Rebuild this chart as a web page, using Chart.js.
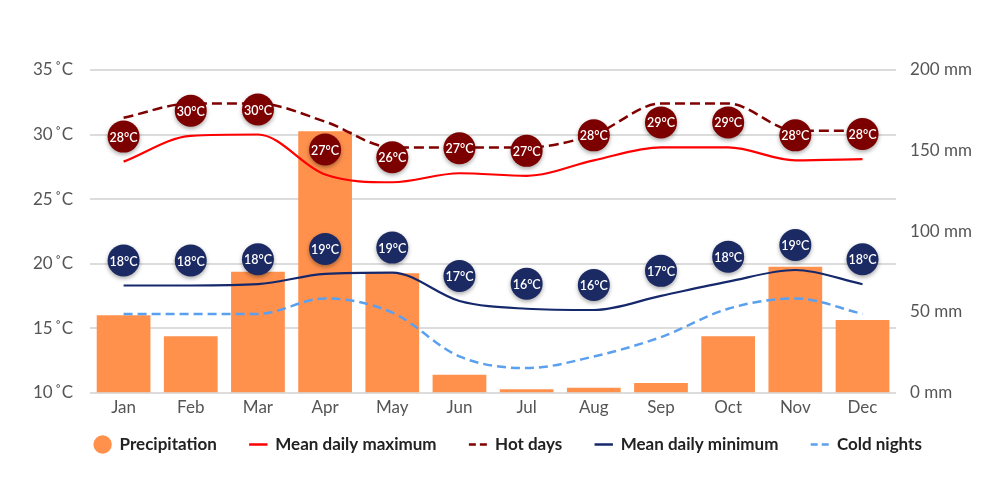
<!DOCTYPE html>
<html>
<head>
<meta charset="utf-8">
<title>Climate chart</title>
<script src="https://cdn.jsdelivr.net/npm/chart.js@4.4.1/dist/chart.umd.min.js"></script>
<style>
  html, body { margin: 0; padding: 0; background: #fff; }
  #wrap { width: 1000px; height: 500px; }
</style>
</head>
<body>
<div id="wrap"><canvas id="climateChart"></canvas></div>
<script>
// data
var months = ['Jan', 'Feb', 'Mar', 'Apr', 'May', 'Jun', 'Jul', 'Aug', 'Sep', 'Oct', 'Nov', 'Dec'];
var precipitation = [48, 35, 75, 162, 74, 11, 2, 3, 6, 35, 78, 45];      // mm
var meanMax  = [27.9, 29.9, 30.0, 26.9, 26.3, 27.0, 26.8, 28.0, 29.0, 29.0, 28.0, 28.1];
var hotDays  = [31.3, 32.4, 32.4, 31.0, 29.0, 29.0, 29.0, 30.0, 32.4, 32.4, 30.3, 30.3];
var meanMin  = [18.3, 18.3, 18.4, 19.2, 19.3, 17.1, 16.5, 16.4, 17.5, 18.6, 19.5, 18.4];
var coldNights = [16.1, 16.1, 16.1, 17.3, 16.2, 12.8, 11.9, 12.8, 14.3, 16.5, 17.3, 16.1];
var maxLabels = [28, 30, 30, 27, 26, 27, 27, 28, 29, 29, 28, 28];
var minLabels = [18, 18, 18, 19, 19, 17, 16, 16, 17, 18, 19, 18];
var tempTicks = [10, 15, 20, 25, 30, 35];
var rainTicks = [0, 50, 100, 150, 200];

var FONT = 'Lato, "Noto Sans", sans-serif';

// draws the round value badges above the mean max / mean min lines
var badgePlugin = {
  id: 'badges',
  afterDatasetsDraw: function(chart) {
    var ctx = chart.ctx;
    chart.data.datasets.forEach(function(ds, i) {
      if (!ds.badgeLabels) return;
      var meta = chart.getDatasetMeta(i);
      meta.data.forEach(function(pt, j) {
        var x = pt.x, y = pt.y - 25;
        ctx.save();
        ctx.shadowColor = 'rgba(0,0,0,0.35)';
        ctx.shadowBlur = 4;
        ctx.shadowOffsetY = 2;
        ctx.beginPath();
        ctx.arc(x, y, 16, 0, Math.PI * 2);
        ctx.fillStyle = ds.badgeColor;
        ctx.fill();
        ctx.restore();

        ctx.save();
        ctx.fillStyle = '#fff';
        ctx.font = '600 12.5px ' + FONT;
        ctx.textAlign = 'center';
        ctx.textBaseline = 'middle';
        ctx.fillText(ds.badgeLabels[j] + '\u00b0C', x, y + 1);
        ctx.restore();
      });
    });
  }
};

// the legend sits a bit closer to the month labels than chart.js puts it
var legendShift = {
  id: 'legendShift',
  afterLayout: function(chart) {
    if (!chart.legend) return;
    chart.legend.top -= 20;
    chart.legend.bottom -= 20;
    chart.legend.left += 7;
    chart.legend.right += 7;
  }
};

var ctx = document.getElementById('climateChart').getContext('2d');
var chart = new Chart(ctx, {
  type: 'bar',
  data: {
    labels: months,
    datasets: [
      {
        type: 'bar',
        label: 'Precipitation',
        data: precipitation,
        yAxisID: 'yRain',
        backgroundColor: '#ff914d',
        borderWidth: 0,
        barPercentage: 0.8,
        categoryPercentage: 1,
        order: 2
      },
      {
        type: 'line',
        label: 'Mean daily maximum',
        data: meanMax,
        yAxisID: 'yTemp',
        borderColor: '#ff0000',
        borderWidth: 2.2,
        pointRadius: 0,
        cubicInterpolationMode: 'monotone',
        badgeLabels: maxLabels,
        badgeColor: '#7d0000',
        order: 1
      },
      {
        type: 'line',
        label: 'Hot days',
        data: hotDays,
        yAxisID: 'yTemp',
        borderColor: '#800000',
        borderWidth: 2.5,
        borderDash: [10, 5],
        pointRadius: 0,
        cubicInterpolationMode: 'monotone',
        order: 1
      },
      {
        type: 'line',
        label: 'Mean daily minimum',
        data: meanMin,
        yAxisID: 'yTemp',
        borderColor: '#14286b',
        borderWidth: 2.2,
        pointRadius: 0,
        cubicInterpolationMode: 'monotone',
        badgeLabels: minLabels,
        badgeColor: '#1b2a63',
        order: 1
      },
      {
        type: 'line',
        label: 'Cold nights',
        data: coldNights,
        yAxisID: 'yTemp',
        borderColor: '#5aa0ee',
        borderWidth: 2.5,
        borderDash: [9, 5],
        pointRadius: 0,
        cubicInterpolationMode: 'monotone',
        order: 1
      }
    ]
  },
  options: {
    responsive: true,
    maintainAspectRatio: false,
    animation: false,
    layout: { padding: { left: 16, right: 14, top: 70, bottom: 17 } },
    plugins: {
      tooltip: { enabled: false },
      legend: {
        position: 'bottom',
        labels: {
          usePointStyle: true,
          boxHeight: 13,
          padding: 33,
          color: '#222',
          font: { family: FONT, size: 17, weight: 'bold' },
          sort: function(a, b) { return a.datasetIndex - b.datasetIndex; },
          generateLabels: function(chart) {
            var items = Chart.defaults.plugins.legend.labels.generateLabels(chart);
            items.forEach(function(it) {
              var ds = chart.data.datasets[it.datasetIndex];
              if (ds.type === 'line') {
                it.pointStyle = 'line';
                it.strokeStyle = ds.borderColor;
                it.lineWidth = 2.5;
                it.lineDash = ds.borderDash ? [7, 4] : [];
              } else {
                it.pointStyle = 'circle';
                it.lineWidth = 0;
              }
            });
            return items;
          }
        }
      }
    },
    scales: {
      x: {
        grid: { display: false, drawTicks: false },
        border: { display: false },
        ticks: { color: '#555', padding: 5, font: { family: FONT, size: 17 } }
      },
      yTemp: {
        position: 'left',
        min: 10,
        max: 35,
        afterBuildTicks: function(axis) {
          axis.ticks = tempTicks.map(function(v) { return { value: v }; });
        },
        grid: { color: '#dcdcdc', lineWidth: 2, drawTicks: false },
        border: { display: false },
        ticks: {
          color: '#555',
          padding: 17,
          font: { family: FONT, size: 17 },
          callback: function(v) { return v + '\u2009\u02daC'; }
        }
      },
      yRain: {
        position: 'right',
        min: 0,
        max: 200,
        afterBuildTicks: function(axis) {
          axis.ticks = rainTicks.map(function(v) { return { value: v }; });
        },
        grid: { display: false, drawTicks: false },
        border: { display: false },
        ticks: {
          color: '#555',
          padding: 14,
          font: { family: FONT, size: 17 },
          callback: function(v) { return v + ' mm'; }
        }
      }
    }
  },
  plugins: [badgePlugin, legendShift]
});
</script>
</body>
</html>
